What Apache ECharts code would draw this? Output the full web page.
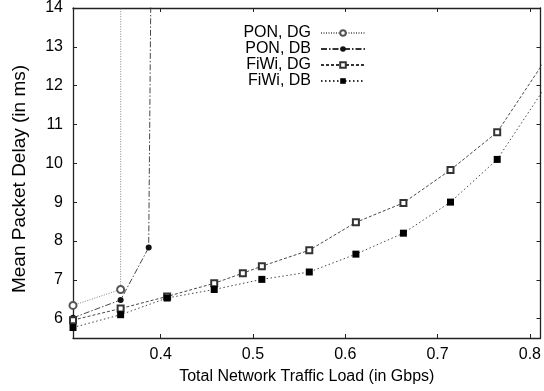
<!DOCTYPE html>
<html>
<head>
<meta charset="utf-8">
<script src="https://cdn.jsdelivr.net/npm/echarts@6/dist/echarts.min.js"></script>
<style>
  html, body { margin: 0; padding: 0; background: #fff; }
  #chart { width: 544px; height: 391px; }
</style>
</head>
<body>
<div id="chart"></div>
<script>
// Mean packet delay versus offered traffic load, PON vs FiWi with two DBA schemes
const seriesNames = ['PON, DG', 'PON, DB', 'FiWi, DG', 'FiWi, DB'];

const ponDgLoad  = [0.305, 0.3566, 0.357];
const ponDgDelay = [6.34, 6.75, 30];

const ponDbLoad  = [0.305, 0.3566, 0.387, 0.3899];
const ponDbDelay = [6.02, 6.48, 7.83, 16];

const fiwiDgLoad  = [0.305, 0.3566, 0.407, 0.458, 0.489, 0.5096, 0.561, 0.6115, 0.663, 0.714, 0.7646, 0.815];
const fiwiDgDelay = [5.96, 6.26, 6.57, 6.91, 7.17, 7.35, 7.76, 8.48, 8.98, 9.83, 10.8, 12.6];

const fiwiDbLoad  = [0.305, 0.3566, 0.407, 0.458, 0.5096, 0.561, 0.6115, 0.663, 0.714, 0.7646, 0.815];
const fiwiDbDelay = [5.77, 6.10, 6.53, 6.75, 7.01, 7.20, 7.66, 8.20, 9.00, 10.1, 11.9];

const xTicks = [0.4, 0.5, 0.6, 0.7, 0.8];
const yTicks = [6, 7, 8, 9, 10, 11, 12, 13, 14];

const FONT = '"Liberation Sans", Arial, Helvetica, sans-serif';
const pairs = (xs, ys) => xs.map((x, i) => [x, ys[i]]);

const frameLine = { lineStyle: { color: '#222', width: 1.3 } };
const tickInside = (vals) => ({ show: true, inside: true, length: 4, customValues: vals, lineStyle: { color: '#222', width: 1 } });

const chart = echarts.init(document.getElementById('chart'), null, { renderer: 'canvas' });

chart.setOption({
  animation: false,
  backgroundColor: '#fff',
  textStyle: { fontFamily: FONT },
  grid: { left: 73, right: 1, top: 6, bottom: 53, containLabel: false },
  legend: {
    orient: 'vertical',
    align: 'right',
    right: 178,
    top: 25,
    padding: 0,
    itemWidth: 44,
    itemHeight: 7,
    itemGap: 0,
    data: seriesNames,
    itemStyle: { borderWidth: 1 },
    textStyle: { fontFamily: FONT, fontSize: 16, color: '#000', lineHeight: 16, padding: [0, 5, 0, 0] }
  },
  xAxis: [
    {
      type: 'value', position: 'bottom', min: 0.305, max: 0.8115,
      axisLine: frameLine,
      axisTick: tickInside(xTicks),
      splitLine: { show: false },
      axisLabel: {
        customValues: xTicks, margin: 9, fontSize: 16, color: '#000', fontFamily: FONT,
        formatter: (v) => v.toFixed(1)
      },
      name: 'Total Network Traffic Load (in Gbps)',
      nameLocation: 'middle', nameGap: 31,
      nameTextStyle: { fontSize: 16, color: '#000', fontFamily: FONT }
    },
    {
      type: 'value', position: 'top', min: 0.305, max: 0.8115,
      axisLine: frameLine,
      axisTick: tickInside(xTicks),
      axisLabel: { show: false },
      splitLine: { show: false }
    }
  ],
  yAxis: [
    {
      type: 'value', position: 'left', min: 5.5, max: 14,
      axisLine: frameLine,
      axisTick: tickInside(yTicks),
      splitLine: { show: false },
      axisLabel: { customValues: yTicks, margin: 10, fontSize: 16, color: '#000', fontFamily: FONT },
      name: 'Mean Packet Delay (in ms)',
      nameLocation: 'middle', nameGap: 44,
      nameTextStyle: { fontSize: 19, color: '#000', fontFamily: FONT, padding: [0, 12, 0, 0] }
    },
    {
      type: 'value', position: 'right', min: 5.5, max: 14,
      axisLine: frameLine,
      axisTick: tickInside(yTicks),
      axisLabel: { show: false },
      splitLine: { show: false }
    }
  ],
  series: [
    {
      name: seriesNames[0], type: 'line', xAxisIndex: 0, yAxisIndex: 0, clip: true,
      data: pairs(ponDgLoad, ponDgDelay),
      symbol: 'emptyCircle', symbolSize: 7,
      itemStyle: { color: '#555', borderWidth: 1 },
      lineStyle: { color: '#777', width: 0.9, type: [1, 1.5] }
    },
    {
      name: seriesNames[1], type: 'line', xAxisIndex: 0, yAxisIndex: 0, clip: true,
      data: pairs(ponDbLoad, ponDbDelay),
      symbol: 'circle', symbolSize: 6,
      itemStyle: { color: '#111' },
      lineStyle: { color: '#333', width: 0.9, type: [6, 2, 1.5, 2] }
    },
    {
      name: seriesNames[2], type: 'line', xAxisIndex: 0, yAxisIndex: 0, clip: true,
      data: pairs(fiwiDgLoad, fiwiDgDelay),
      symbol: 'emptyRect', symbolSize: 6,
      itemStyle: { color: '#333', borderWidth: 1 },
      lineStyle: { color: '#333', width: 0.9, type: [3, 2] }
    },
    {
      name: seriesNames[3], type: 'line', xAxisIndex: 0, yAxisIndex: 0, clip: true,
      data: pairs(fiwiDbLoad, fiwiDbDelay),
      symbol: 'rect', symbolSize: 7,
      itemStyle: { color: '#000' },
      lineStyle: { color: '#333', width: 0.9, type: [1.5, 2.5] }
    }
  ]
});
</script>
</body>
</html>
